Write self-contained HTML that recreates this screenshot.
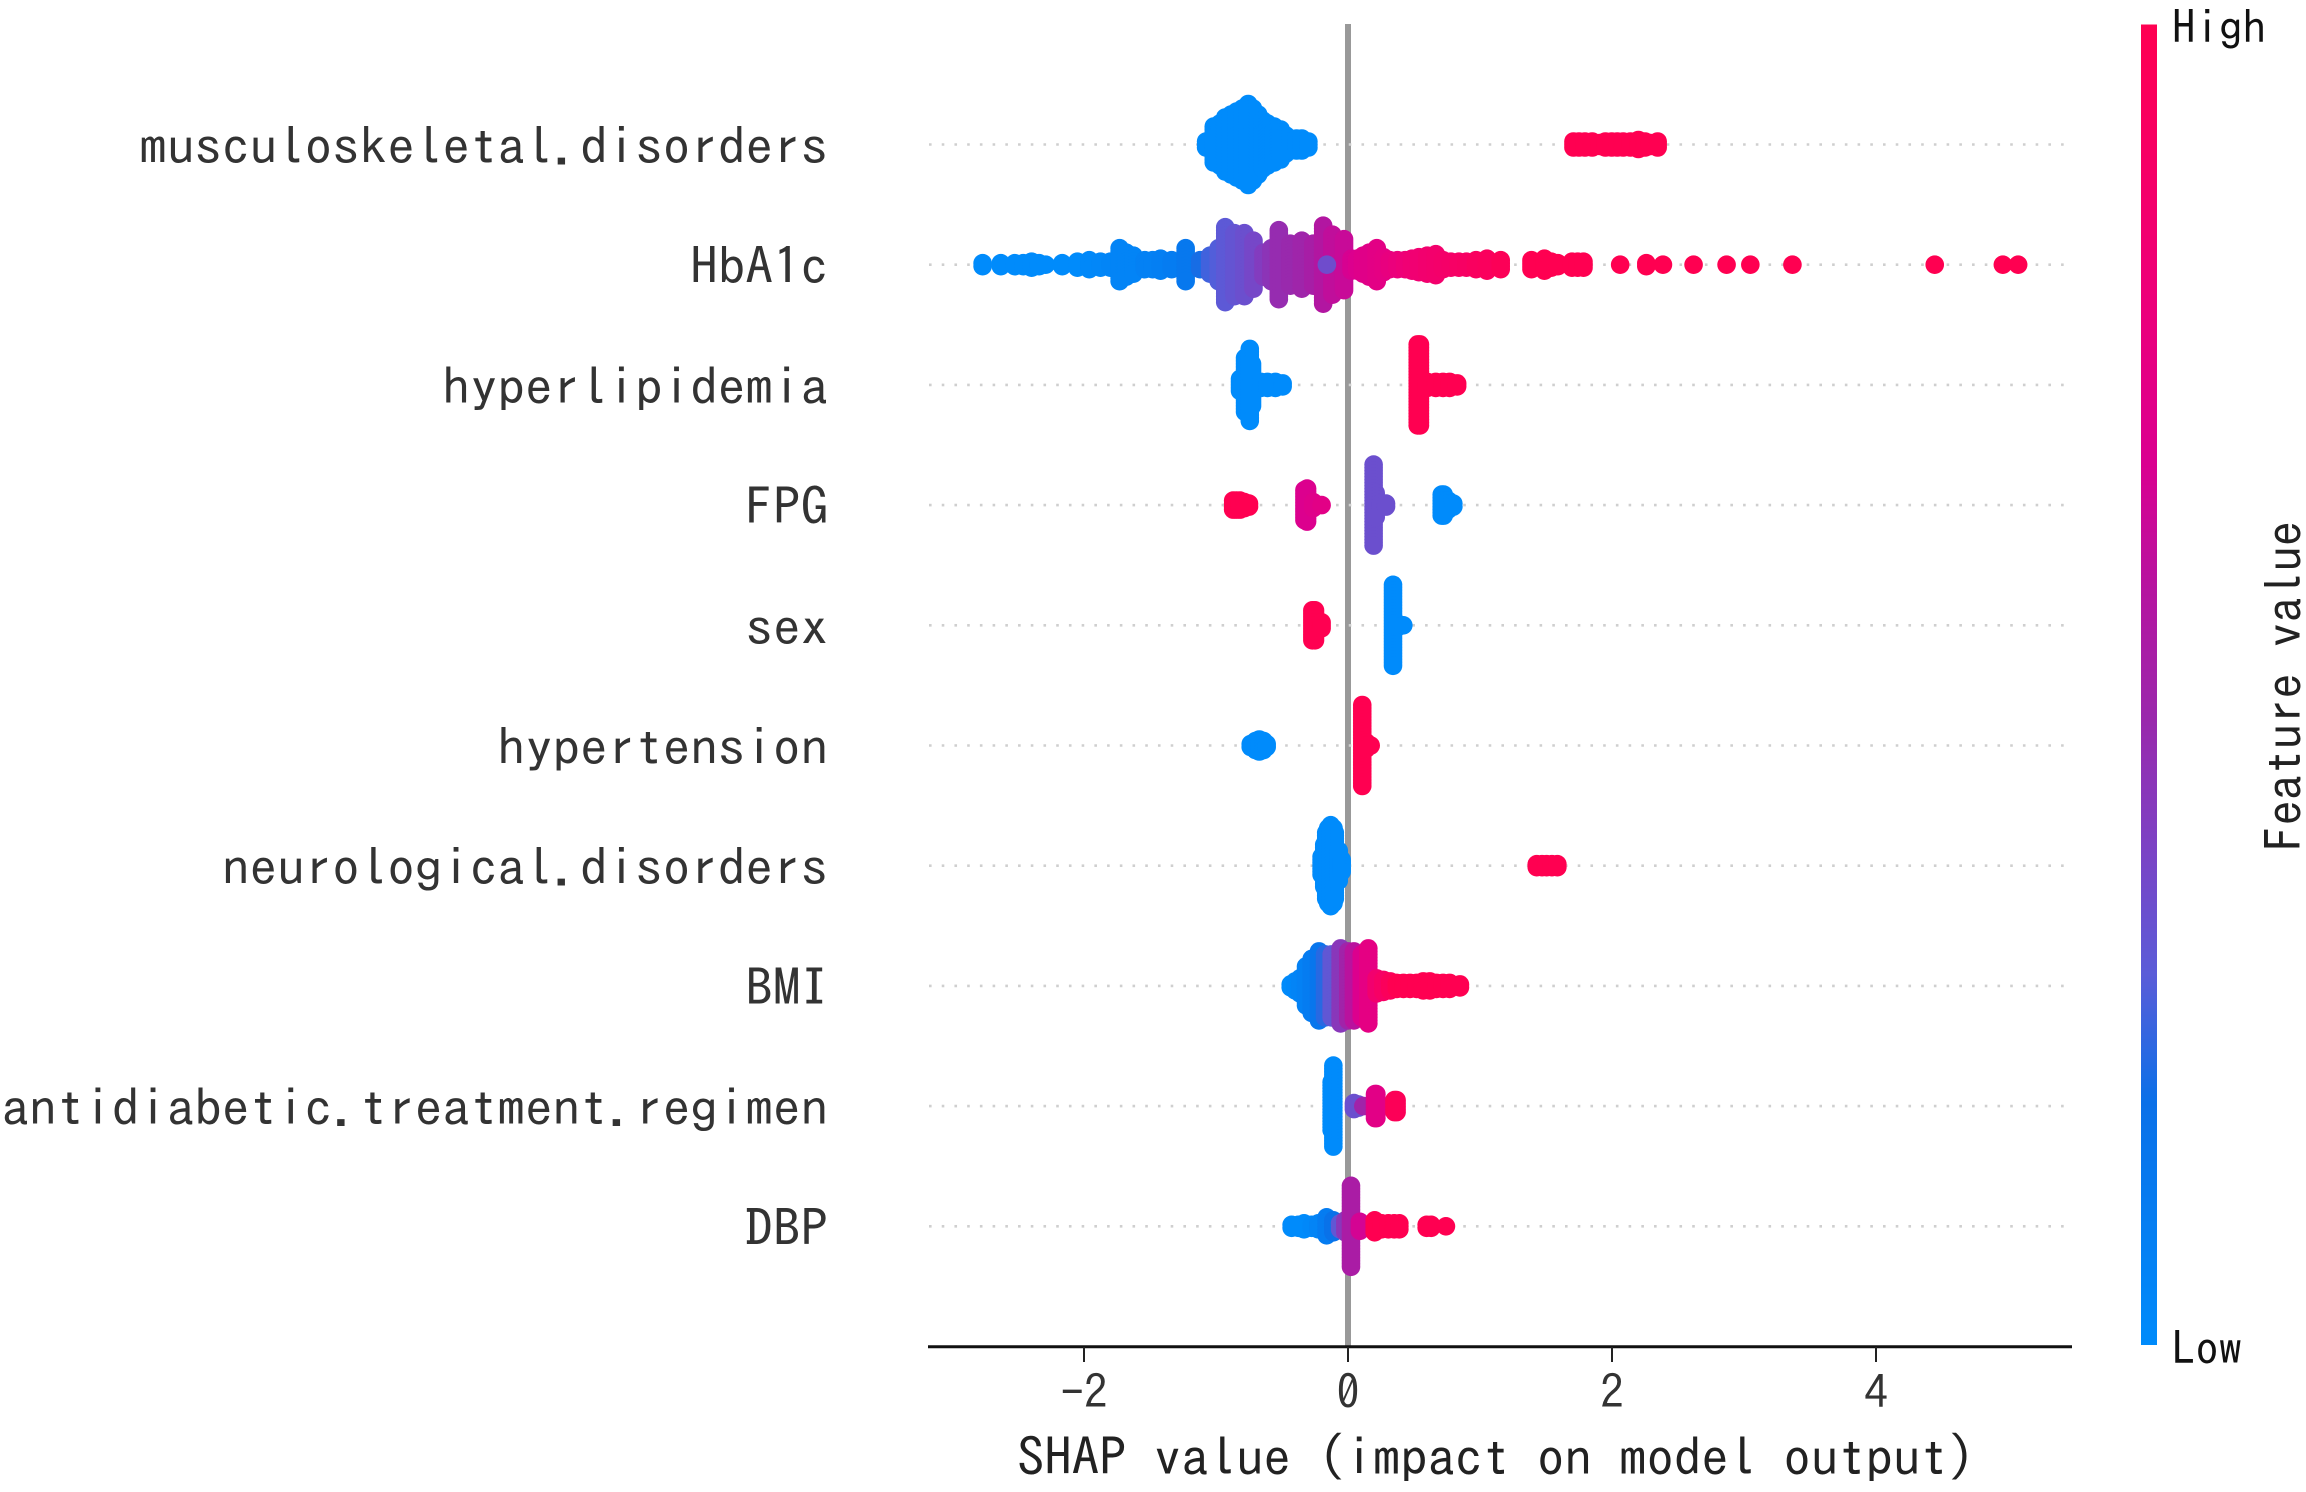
<!DOCTYPE html>
<html lang="en">
<head>
<meta charset="utf-8">
<title>SHAP summary beeswarm</title>
<style>
html,body{margin:0;padding:0;background:#fff;}
#chart{display:block;width:2306px;height:1492px;}
text{font-family:"IPAGothic","WenQuanYi Zen Hei","Liberation Mono",monospace;}
</style>
</head>
<body>
<svg id="chart" xmlns="http://www.w3.org/2000/svg" width="2306" height="1492" viewBox="0 0 2306 1492">
  <defs>
    <linearGradient id="cbar" x1="0" y1="1" x2="0" y2="0">
      <stop offset="0" stop-color="#008bfb"/>
      <stop offset="0.184" stop-color="#0a70e8"/>
      <stop offset="0.28" stop-color="#5a5cd8"/>
      <stop offset="0.378" stop-color="#7c42c4"/>
      <stop offset="0.474" stop-color="#9a28ac"/>
      <stop offset="0.57" stop-color="#b514a0"/>
      <stop offset="0.667" stop-color="#da0090"/>
      <stop offset="0.8" stop-color="#ee0078"/>
      <stop offset="1" stop-color="#ff0051"/>
    </linearGradient>
  </defs>
  <rect x="0" y="0" width="2306" height="1492" fill="#fff"/>
  <line x1="1348" y1="24" x2="1348" y2="1346" stroke="#999" stroke-width="6"/>
  <g id="grid"></g>
  <g id="points"></g>
  <g id="labels"></g>
  <line x1="928" y1="1346.7" x2="2072" y2="1346.7" stroke="#111" stroke-width="3"/>
  <g id="ticks"></g>
  <text x="1017" y="1476" font-size="52" fill="#222" textLength="958" lengthAdjust="spacingAndGlyphs">SHAP value (impact on model output)</text>
  <rect x="2141" y="24.5" width="16" height="1320.5" fill="url(#cbar)"/>
  <text x="2172" y="44" font-size="47" fill="#111" textLength="94" lengthAdjust="spacingAndGlyphs">High</text>
  <text x="2172" y="1365" font-size="47" fill="#111" textLength="70" lengthAdjust="spacingAndGlyphs">Low</text>
  <text transform="translate(2302,851) rotate(-90)" x="0" y="0" font-size="50" fill="#222" textLength="330" lengthAdjust="spacingAndGlyphs">Feature value</text>
</svg>
<script>
/* ---------- categories and tick labels ---------- */
const categories = ["musculoskeletal.disorders","HbA1c","hyperlipidemia","FPG","sex","hypertension","neurological.disorders","BMI","antidiabetic.treatment.regimen","DBP"];
const tickValues = [-2,0,2,4];
const tickLabels = ["-2","0","2","4"];

/* ---------- per-feature series: SHAP value, dots stacked at that value, feature value 0-1 ---------- */
const shapMusculo = [-1.075,-1.017,-0.97,-0.93,-0.885,-0.843,-0.80,-0.756,-0.72,-0.68,-0.645,-0.61,-0.56,-0.51,-0.47,-0.437,-0.39,-0.35,-0.30,1.708,1.75,1.795,1.85,1.91,1.95,1.998,2.04,2.085,2.14,2.2,2.25,2.288,2.346];
const countMusculo = [3,13,15,19,21,23,25,28,25,21,17,15,13,11,7,5,5,5,3,3,3,3,3,2,3,3,3,3,3,4,3,2,3];
const featMusculo = [0,0,0,0,0,0,0,0,0,0,0,0,0,0,0,0,0,0,0,1,1,1,1,1,1,1,1,1,1,1,1,1,1];

const shapHbA1c = [-2.768,-2.63,-2.524,-2.46,-2.397,-2.34,-2.29,-2.165,-2.05,-1.96,-1.875,-1.80,-1.73,-1.68,-1.625,-1.54,-1.48,-1.42,-1.336,-1.23,-1.12,-1.045,-0.98,-0.93,-0.86,-0.785,-0.716,-0.64,-0.58,-0.524,-0.437,-0.35,-0.263,-0.188,-0.118,-0.03,0.027,0.07,0.114,0.16,0.218,0.27,0.317,0.375,0.433,0.485,0.537,0.6,0.665,0.72,0.78,0.84,0.897,0.97,1.053,1.157,1.39,1.488,1.54,1.59,1.697,1.74,1.784,2.062,2.26,2.386,2.618,2.868,3.048,3.367,4.445,4.961,5.077,-0.16];
const countHbA1c = [2,2,2,2,3,2,1,2,3,4,3,3,12,9,7,4,4,5,4,12,4,7,12,26,22,22,17,9,12,24,15,17,15,27,21,18,5,5,7,9,12,6,4,4,4,5,6,7,8,4,3,3,3,4,5,4,4,5,3,2,3,3,3,1,2,1,1,1,1,1,1,1,1,1];
const featHbA1c = [0,0,0,0,0,0,0,0,0,0.02,0.03,0.04,0.05,0.05,0.05,0.07,0.07,0.08,0.1,0.13,0.2,0.25,0.27,0.29,0.31,0.33,0.36,0.4,0.43,0.46,0.47,0.49,0.52,0.56,0.6,0.62,0.66,0.68,0.7,0.71,0.73,0.74,0.76,0.78,0.8,0.82,0.83,0.85,0.86,0.87,0.88,0.9,0.91,0.93,0.94,0.97,1,1,1,1,1,1,1,1,1,1,1,1,1,1,1,1,1,0.34];

const shapHyper = [-0.818,-0.78,-0.744,-0.727,-0.66,-0.61,-0.55,-0.495,0.528,0.545,0.6,0.665,0.72,0.77,0.827];
const countHyper = [5,19,25,15,3,3,3,2,28,28,3,3,3,3,2];
const featHyper = [0,0,0,0,0,0,0,0,1,1,1,1,1,1,1];

const shapFPG = [-0.87,-0.845,-0.818,-0.785,-0.75,-0.33,-0.31,-0.263,-0.2,0.194,0.21,0.25,0.288,0.71,0.725,0.76,0.798];
const countFPG = [4,4,4,3,2,11,12,3,1,28,9,2,2,8,8,4,2];
const featFPG = [1,1,1,1,1,0.68,0.68,0.7,0.72,0.33,0.33,0.33,0.33,0,0,0,0];

const shapSex = [-0.27,-0.25,-0.2,0.341,0.38,0.419];
const countSex = [11,11,3,28,2,1];
const featSex = [1,1,1,0,0,0];

const shapHypertension = [-0.737,-0.70,-0.672,-0.64,-0.616,0.108,0.14,0.172];
const countHypertension = [2,4,5,4,2,28,3,1];
const featHypertension = [0,0,0,0,0,1,1,1];

const shapNeuro = [-0.2,-0.18,-0.165,-0.15,-0.131,-0.11,-0.10,-0.07,-0.048,1.43,1.47,1.505,1.545,1.586];
const countNeuro = [7,15,23,26,28,26,23,11,5,2,2,2,2,2];
const featNeuro = [0,0,0,0,0,0,0,0,0,1,1,1,1,1];

const shapBMI = [-0.434,-0.40,-0.364,-0.318,-0.275,-0.22,-0.174,-0.124,-0.056,0.002,0.045,0.104,0.154,0.217,0.268,0.32,0.37,0.42,0.47,0.52,0.57,0.62,0.67,0.72,0.77,0.848];
const countBMI = [2,4,6,14,19,24,22,22,26,24,24,22,26,6,5,4,3,3,3,3,4,4,3,3,3,2];
const featBMI = [0,0.02,0.05,0.07,0.1,0.14,0.22,0.3,0.42,0.5,0.58,0.68,0.74,0.85,0.9,0.95,1,1,1,1,1,1,1,1,1,1];

const shapAnti = [-0.124,-0.111,0.045,0.08,0.116,0.2046,0.215,0.352,0.368];
const countAnti = [17,28,3,2,1,9,9,5,5];
const featAnti = [0,0,0.33,0.33,0.5,0.7,0.72,0.97,0.97];

const shapDBP = [-0.427,-0.376,-0.333,-0.275,-0.225,-0.162,-0.111,-0.06,-0.02,0.0226,0.09,0.202,0.255,0.306,0.35,0.389,0.596,0.63,0.742];
const countDBP = [2,2,3,2,3,7,5,3,5,28,4,5,3,3,3,3,2,2,1];
const featDBP = [0,0,0,0.02,0.05,0.1,0.17,0.3,0.42,0.53,0.65,1,1,1,1,1,1,1,1];

const allShap = [shapMusculo,shapHbA1c,shapHyper,shapFPG,shapSex,shapHypertension,shapNeuro,shapBMI,shapAnti,shapDBP];
const allCount = [countMusculo,countHbA1c,countHyper,countFPG,countSex,countHypertension,countNeuro,countBMI,countAnti,countDBP];
const allFeat = [featMusculo,featHbA1c,featHyper,featFPG,featSex,featHypertension,featNeuro,featBMI,featAnti,featDBP];

/* ---------- axis functions ---------- */
const SVGNS = "http://www.w3.org/2000/svg";
function xScale(v){ return 1348 + 132 * v; }
function yRow(i){ return 144.5 + 120.2 * i; }
const stackStep = 3;
const dotRadius = 9.3;

const ramp = [[0,0,139,251],[0.184,10,112,232],[0.28,90,92,216],[0.378,124,66,196],[0.474,154,40,172],[0.57,181,20,160],[0.667,218,0,144],[0.8,238,0,120],[1,255,0,81]];
function colorOf(f){
  const t = Math.max(0, Math.min(1, f));
  for (let i = 1; i < ramp.length; i++) {
    if (t <= ramp[i][0]) {
      const a = ramp[i-1], b = ramp[i];
      const u = (t - a[0]) / (b[0] - a[0]);
      return "rgb(" + [1,2,3].map(function(k){ return Math.round(a[k] + (b[k]-a[k]) * u); }).join(",") + ")";
    }
  }
  return "rgb(255,0,81)";
}

/* ---------- gridlines ---------- */
const gridG = document.getElementById("grid");
categories.forEach(function(name, i){
  const l = document.createElementNS(SVGNS, "line");
  l.setAttribute("x1", 929);
  l.setAttribute("x2", 2064);
  l.setAttribute("y1", yRow(i));
  l.setAttribute("y2", yRow(i));
  l.setAttribute("stroke", "#cfcfcf");
  l.setAttribute("stroke-width", 2.6);
  l.setAttribute("stroke-dasharray", "2.6 10.12");
  
  
  gridG.appendChild(l);
});

/* ---------- beeswarm points ---------- */
const pointsG = document.getElementById("points");
categories.forEach(function(name, i){
  const shap = allShap[i], cnt = allCount[i], feat = allFeat[i];
  const rowG = document.createElementNS(SVGNS, "g");
  
  
  shap.forEach(function(v, j){
    const n = cnt[j];
    for (let k = 0; k < n; k++) {
      const c = document.createElementNS(SVGNS, "circle");
      c.setAttribute("cx", xScale(v).toFixed(2));
      c.setAttribute("cy", (yRow(i) + (k - (n-1)/2) * stackStep).toFixed(2));
      c.setAttribute("r", dotRadius);
      c.setAttribute("fill", colorOf(feat[j]));
      
      
      rowG.appendChild(c);
    }
  });
  pointsG.appendChild(rowG);
});

/* ---------- feature labels ---------- */
const labelsG = document.getElementById("labels");
const charAdvance = 27.55;
categories.forEach(function(name, i){
  const t = document.createElementNS(SVGNS, "text");
  const w = name.length * charAdvance;
  t.setAttribute("x", (828 - w).toFixed(1));
  t.setAttribute("y", (yRow(i) + 20).toFixed(1));
  t.setAttribute("font-size", 51);
  t.setAttribute("fill", "#333");
  t.setAttribute("textLength", w.toFixed(1));
  t.setAttribute("lengthAdjust", "spacingAndGlyphs");
  
  
  t.textContent = name;
  labelsG.appendChild(t);
});

/* ---------- x ticks ---------- */
const ticksG = document.getElementById("ticks");
tickValues.forEach(function(v, i){
  const l = document.createElementNS(SVGNS, "line");
  l.setAttribute("x1", xScale(v));
  l.setAttribute("x2", xScale(v));
  l.setAttribute("y1", 1347);
  l.setAttribute("y2", 1362);
  l.setAttribute("stroke", "#222");
  l.setAttribute("stroke-width", 2);
  
  
  ticksG.appendChild(l);
  const t = document.createElementNS(SVGNS, "text");
  t.setAttribute("x", xScale(v));
  t.setAttribute("y", 1409);
  t.setAttribute("font-size", 47);
  t.setAttribute("fill", "#333");
  t.setAttribute("text-anchor", "middle");
  
  
  t.textContent = tickLabels[i];
  ticksG.appendChild(t);
});
</script>
</body>
</html>
